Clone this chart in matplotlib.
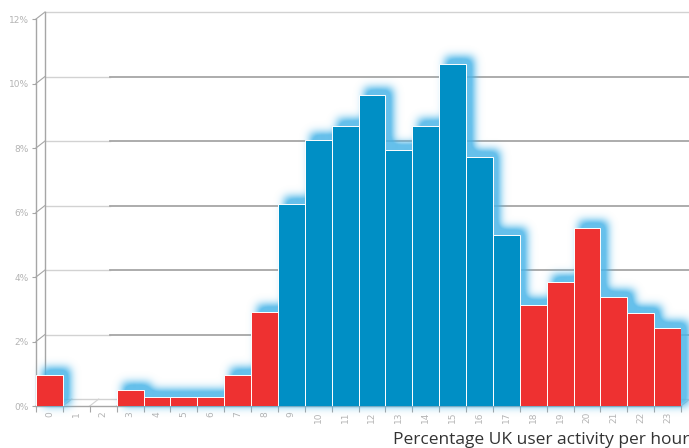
import numpy as np
import matplotlib.pyplot as plt
from matplotlib.colors import to_rgb

hours = list(range(24))
activity = [0.95, 0.0, 0.0, 0.50, 0.27, 0.27, 0.27, 0.97, 2.91, 6.26, 8.25, 8.68,
            9.64, 7.94, 8.68, 10.6, 7.72, 5.30, 3.13, 3.84, 5.52, 3.38, 2.88, 2.42]
work_hours = range(9, 18)
y_ticks = [0, 2, 4, 6, 8, 10, 12]
y_labels = ["0%", "2%", "4%", "6%", "8%", "10%", "12%"]
title = "Percentage UK user activity per hour"

RED = "#ee3131"
BLUE = "#008fc5"
GLOW = "#4ab5e8"
LIGHT = "#d2d2d2"
DARK = "#a6a6a6"

W, H = 689, 448
left_px, right_px, zero_px, top_px = 36, 681, 406, 19

fig = plt.figure(figsize=(W / 100, H / 100), dpi=100)
ax = fig.add_axes([left_px / W, (H - zero_px) / H,
                   (right_px - left_px) / W, (zero_px - top_px) / H])
ax.set_xlim(0, 24)
ax.set_ylim(0, 12)

# pixel -> data scale, depth offset of the back wall
px_x = 24 / (right_px - left_px)
px_y = 12 / (zero_px - top_px)
dx, dy = 9 * px_x, 7 * px_y

# back wall grid
split = (110 - left_px) * px_x
xend = (W - left_px) * px_x
for v in y_ticks:
    ax.plot([0, dx], [v, v + dy], color=DARK, lw=0.8, clip_on=False, zorder=1)
    if v in (0, 12):
        ax.plot([dx, xend], [v + dy, v + dy], color=LIGHT, lw=1, clip_on=False, zorder=1)
    else:
        ax.plot([dx, split], [v + dy, v + dy], color=LIGHT, lw=1, clip_on=False, zorder=1)
        ax.plot([split, xend], [v + dy, v + dy], color=DARK, lw=1.3, clip_on=False, zorder=1)
ax.plot([0, 0], [0, 12], color=DARK, lw=1, clip_on=False, zorder=1)
ax.plot([dx, dx], [dy, 12 + dy], color=DARK, lw=1, clip_on=False, zorder=1)
ax.plot([24 - 0.04, 24 - 0.04], [dy, 2 + dy], color=DARK, lw=1, clip_on=False, zorder=1)

# floor
for i in range(25):
    ax.plot([i, i + dx], [0, dy], color=LIGHT, lw=0.8, clip_on=False, zorder=1)
ax.plot([0, 24], [0, 0], color=DARK, lw=1, clip_on=False, zorder=1)

# soft glow behind the bars (blurred back face of each bar)
gx = np.arange(-1, 25.5, px_x)
gy = np.arange(-1, 13, px_y)
XX, YY = np.meshgrid(gx, gy)
mask = np.zeros_like(XX)
for h, v in zip(hours, activity):
    if v > 0:
        mask[(XX >= h + dx * 0.7) & (XX <= h + 1 + dx * 0.8) &
             (YY >= 0) & (YY <= v + dy * 0.9)] = 1.0
sig = 4.5
k = np.exp(-0.5 * (np.arange(-16, 17) / sig) ** 2)
k /= k.sum()
blur = np.apply_along_axis(lambda r: np.convolve(r, k, mode="same"), 1, mask)
blur = np.apply_along_axis(lambda c: np.convolve(c, k, mode="same"), 0, blur)
rgba = np.zeros(blur.shape + (4,))
rgba[..., :3] = to_rgb(GLOW)
rgba[..., 3] = np.clip(blur * 1.5, 0, 1) * 0.85
im = ax.imshow(rgba, extent=[gx[0], gx[-1], gy[0], gy[-1]], origin="lower",
               aspect="auto", zorder=2, interpolation="bilinear")
im.set_clip_on(False)

colors = [BLUE if h in work_hours else RED for h in hours]
ax.bar([h + 0.5 for h in hours], activity, width=1, color=colors,
       edgecolor="white", linewidth=0.7, zorder=3)

for s in ax.spines.values():
    s.set_visible(False)
ax.set_xticks([h + 0.5 for h in hours])
ax.set_xticklabels([str(h) for h in hours], rotation=90, fontsize=6.5, color="#b4b4b4")
ax.set_xticks(range(25), minor=True)
ax.tick_params(axis="x", which="major", length=0, pad=4)
ax.tick_params(axis="x", which="minor", length=4, color=DARK, width=0.8)
ax.set_yticks(y_ticks)
ax.set_yticklabels(y_labels, fontsize=6.5, color="#b4b4b4")
ax.tick_params(axis="y", length=3, color=DARK, width=0.8, pad=2)

fig.text(1.0, 0.0, title, ha="right", va="bottom", fontsize=12.5,
         color="#333333", family="Open Sans")

fig.savefig("out.png", dpi=100)
